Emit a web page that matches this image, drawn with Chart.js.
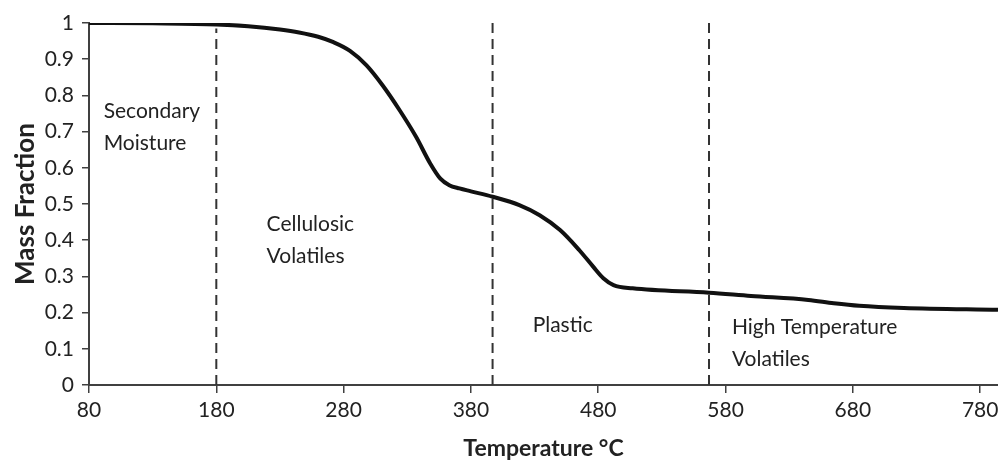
<!DOCTYPE html>
<html>
<head>
<meta charset="utf-8">
<script src="https://cdn.jsdelivr.net/npm/chart.js@4"></script>
<style>
  html, body { margin: 0; padding: 0; background: #fff; }
  #wrap { width: 998px; height: 466px; }
</style>
</head>
<body>
<div id="wrap"><canvas id="chart1"></canvas></div>
<script>
// temperature (°C) and mass fraction
const temps = [80, 130, 180, 205, 230, 245, 260, 272, 285, 298, 311, 324, 337, 348, 356, 363, 371, 380, 397, 418, 434, 450, 465, 476, 484, 492, 507, 567, 600, 645, 665, 685, 720, 794];
const mass = [1.0, 0.999, 0.996, 0.991, 0.982, 0.974, 0.962, 0.947, 0.923, 0.883, 0.826, 0.759, 0.685, 0.612, 0.57, 0.552, 0.543, 0.535, 0.52, 0.497, 0.469, 0.428, 0.373, 0.327, 0.295, 0.276, 0.267, 0.255, 0.246, 0.235, 0.226, 0.219, 0.213, 0.208];

// region boundaries (dashed lines)
const boundaries = [180, 397, 567];
const boundaryTops = [0.985, 1, 1];

const xTicks = [80, 180, 280, 380, 480, 580, 680, 780];

const regionLabels = [
  { lines: ["Secondary", "Moisture"], x: 91.5, y: 0.756 },
  { lines: ["Cellulosic", "Volatiles"], x: 219.5, y: 0.444 },
  { lines: ["Plastic"], x: 428.5, y: 0.166 },
  { lines: ["High Temperature", "Volatiles"], x: 585, y: 0.160 },
];

const axisColor = "#404040";
const textColor = "#222";
const fontFamily = "Lato, 'Noto Sans', sans-serif";

const labelPlugin = {
  id: "regionLabels",
  afterDatasetsDraw(chart) {
    const ctx = chart.ctx;
    const xs = chart.scales.x, ys = chart.scales.y;
    ctx.save();
    ctx.fillStyle = textColor;
    ctx.font = "21px " + fontFamily;
    ctx.textAlign = "left";
    ctx.textBaseline = "middle";
    regionLabels.forEach(function (lab) {
      const px = xs.getPixelForValue(lab.x);
      const py = ys.getPixelForValue(lab.y);
      lab.lines.forEach(function (line, i) {
        ctx.fillText(line, px, py + i * 32);
      });
    });
    ctx.restore();
  },
};

const datasets = [
  {
    label: "Mass Fraction",
    data: temps.map((t, i) => ({ x: t, y: mass[i] })),
    borderColor: "#111",
    borderWidth: 4,
    pointRadius: 0,
    fill: false,
    cubicInterpolationMode: "monotone",
  },
];
boundaries.forEach(function (b, i) {
  datasets.push({
    label: "boundary " + b,
    data: [{ x: b, y: 0 }, { x: b, y: boundaryTops[i] }],
    borderColor: "#333",
    borderWidth: 2,
    borderDash: [10, 6],
    pointRadius: 0,
    fill: false,
  });
});

new Chart("chart1", {
  type: "line",
  data: { datasets: datasets },
  plugins: [labelPlugin],
  options: {
    responsive: true,
    maintainAspectRatio: false,
    animation: false,
    layout: { padding: { top: 23, right: 0, left: 0, bottom: 0 } },
    plugins: {
      legend: { display: false },
      tooltip: { enabled: false },
    },
    scales: {
      x: {
        type: "linear",
        min: 80,
        max: 794,
        afterBuildTicks: (scale) => {
          scale.ticks = xTicks.map((v) => ({ value: v }));
        },
        afterFit: (scale) => {
          scale.height = 81;
          scale.paddingRight = 0;
        },
        grid: { drawOnChartArea: false, drawTicks: true, tickLength: 8, color: axisColor, lineWidth: 1.5 },
        border: { color: axisColor, width: 2 },
        ticks: { color: textColor, font: { family: fontFamily, size: 21 }, padding: 5, maxRotation: 0 },
        title: {
          display: true,
          text: "Temperature °C",
          color: textColor,
          font: { family: fontFamily, size: 23, weight: "bold" },
          padding: { top: 0 },
        },
      },
      y: {
        min: 0,
        max: 1,
        ticks: {
          stepSize: 0.1,
          color: textColor,
          font: { family: fontFamily, size: 21 },
          padding: 8,
          callback: (v) => String(Number(v.toFixed(1))),
        },
        afterFit: (scale) => { scale.width = 89; },
        grid: { drawOnChartArea: false, drawTicks: true, tickLength: 7, color: axisColor, lineWidth: 1.5 },
        border: { color: axisColor, width: 2 },
        title: {
          display: true,
          text: "Mass Fraction",
          color: textColor,
          font: { family: fontFamily, size: 26, weight: "bold" },
          padding: { top: 10, bottom: 0 },
        },
      },
    },
  },
});
</script>
</body>
</html>
